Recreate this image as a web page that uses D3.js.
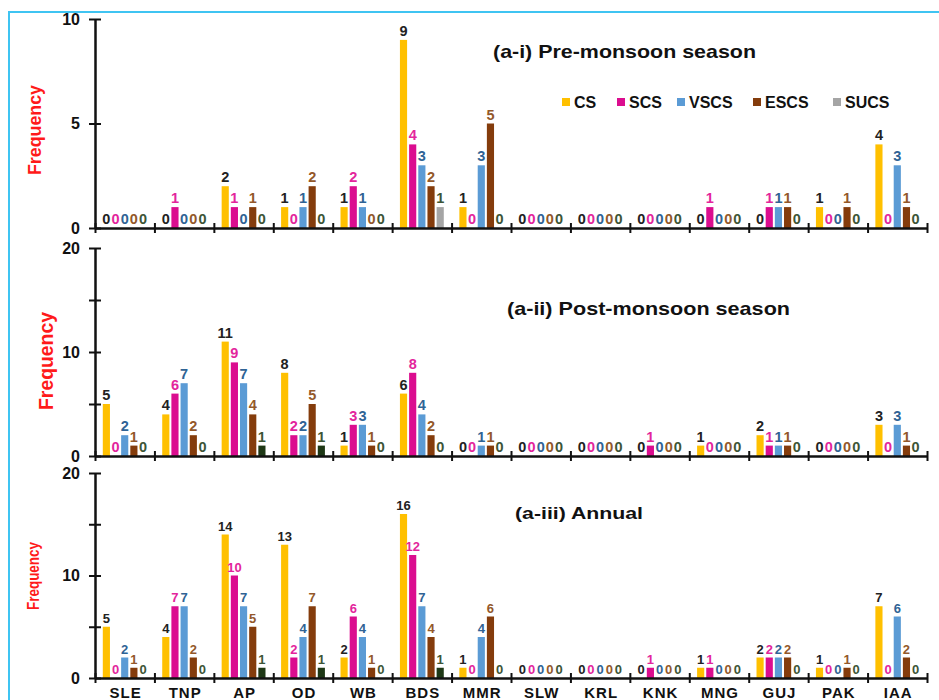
<!DOCTYPE html>
<html>
<head>
<meta charset="utf-8">
<script src="https://cdn.jsdelivr.net/npm/d3@7"></script>
<style>
  body { margin: 0; background: #fff; }
  svg { font-family: "Liberation Sans", Arial, sans-serif; }
</style>
</head>
<body>
<svg></svg>
<script>
var width = 939;
var height = 700;

// categories and series
var regions = ["SLE", "TNP", "AP", "OD", "WB", "BDS", "MMR", "SLW", "KRL", "KNK", "MNG", "GUJ", "PAK", "IAA"];
var classes = ["CS", "SCS", "VSCS", "ESCS", "SUCS"];

// values per region, order CS, SCS, VSCS, ESCS, SUCS
var preMonsoon = [
  [0, 0, 0, 0, 0], [0, 1, 0, 0, 0], [2, 1, 0, 1, 0], [1, 0, 1, 2, 0], [1, 2, 1, 0, 0],
  [9, 4, 3, 2, 1], [1, 0, 3, 5, 0], [0, 0, 0, 0, 0], [0, 0, 0, 0, 0], [0, 0, 0, 0, 0],
  [0, 1, 0, 0, 0], [0, 1, 1, 1, 0], [1, 0, 0, 1, 0], [4, 0, 3, 1, 0]
];
var postMonsoon = [
  [5, 0, 2, 1, 0], [4, 6, 7, 2, 0], [11, 9, 7, 4, 1], [8, 2, 2, 5, 1], [1, 3, 3, 1, 0],
  [6, 8, 4, 2, 0], [0, 0, 1, 1, 0], [0, 0, 0, 0, 0], [0, 0, 0, 0, 0], [0, 1, 0, 0, 0],
  [1, 0, 0, 0, 0], [2, 1, 1, 1, 0], [0, 0, 0, 0, 0], [3, 0, 3, 1, 0]
];
var annual = [
  [5, 0, 2, 1, 0], [4, 7, 7, 2, 0], [14, 10, 7, 5, 1], [13, 2, 4, 7, 1], [2, 6, 4, 1, 0],
  [16, 12, 7, 4, 1], [1, 0, 4, 6, 0], [0, 0, 0, 0, 0], [0, 0, 0, 0, 0], [0, 1, 0, 0, 0],
  [1, 1, 0, 0, 0], [2, 2, 2, 2, 0], [1, 0, 0, 1, 0], [7, 0, 6, 2, 0]
];

var barColors = ["#ffc000", "#db0d8f", "#5b9bd5", "#843c0c", "#a5a5a5"];
var barColorsDark = ["#ffc000", "#db0d8f", "#5b9bd5", "#843c0c", "#1e3816"];
var labelColors = ["#222222", "#e3259c", "#2f6395", "#93582a", "#3d5536"];

var panels = [
  { data: preMonsoon, top: 19, bottom: 228, max: 10, ticks: [0, 5, 10], labels: [0, 5, 10],
    title: "(a-i) Pre-monsoon season", titleX: 493, titleY: 58, titleSize: 19, titleLen: 263,
    freqX: 41, freqY: 130, freqLen: 90, freqSize: 19, colors: barColors, valSize: 14.5 },
  { data: postMonsoon, top: 248, bottom: 456, max: 20, ticks: [0, 5, 10, 15, 20], labels: [0, 10, 20],
    title: "(a-ii) Post-monsoon season", titleX: 507, titleY: 315, titleSize: 19, titleLen: 283,
    freqX: 53, freqY: 361, freqLen: 98, freqSize: 20, colors: barColorsDark, valSize: 14.5 },
  { data: annual, top: 473, bottom: 678, max: 20, ticks: [0, 5, 10, 15, 20], labels: [0, 10, 20],
    title: "(a-iii) Annual", titleX: 515, titleY: 519, titleSize: 17, titleLen: 128,
    freqX: 39, freqY: 576, freqLen: 68, freqSize: 17, colors: barColorsDark, valSize: 13 }
];

var axisLeft = 95, axisRight = 927;

var svg = d3.select("svg")
            .attr("width", width)
            .attr("height", height);

// light blue frame
svg.append("rect")
   .attr("x", 9).attr("y", 12)
   .attr("width", 960).attr("height", 720)
   .attr("fill", "none")
   .attr("stroke", "#3fc4f2")
   .attr("stroke-width", 2);

var xBand = d3.scaleBand()
              .domain(regions)
              .range([axisLeft, axisRight]);

var xEdge = d3.scaleLinear()
              .domain([0, regions.length])
              .range([axisLeft, axisRight]);

var xInner = d3.scaleBand()
               .domain(classes)
               .range([0, xBand.bandwidth()])
               .paddingInner(0.22)
               .paddingOuter(0.85);

panels.forEach(function(p, pi) {

  var y = d3.scaleLinear()
            .domain([0, p.max])
            .range([p.bottom, p.top]);

  var g = svg.append("g");

  // bars
  var groups = g.selectAll(".grp")
                .data(p.data)
                .enter()
                .append("g")
                .attr("transform", function(d, i) { return "translate(" + xBand(regions[i]) + ",0)"; });

  groups.selectAll("rect")
        .data(function(d) { return d; })
        .enter()
        .append("rect")
        .attr("x", function(d, j) { return xInner(classes[j]); })
        .attr("y", function(d) { return y(d); })
        .attr("width", xInner.bandwidth())
        .attr("height", function(d) { return p.bottom - y(d); })
        .attr("fill", function(d, j) { return p.colors[j]; });

  groups.selectAll("text")
        .data(function(d) { return d; })
        .enter()
        .append("text")
        .attr("x", function(d, j) { return xInner(classes[j]) + xInner.bandwidth() / 2; })
        .attr("y", function(d) { return y(d) - 4; })
        .attr("text-anchor", "middle")
        .attr("font-size", p.valSize)
        .attr("font-weight", "bold")
        .attr("fill", function(d, j) { return labelColors[j]; })
        .text(function(d) { return d; });

  // y axis
  var yAxis = d3.axisLeft(y)
                .tickValues(p.ticks)
                .tickSizeInner(6)
                .tickSizeOuter(0)
                .tickPadding(9)
                .tickFormat(function(d) { return p.labels.indexOf(d) >= 0 ? d : ""; });

  var ya = g.append("g")
            .attr("transform", "translate(" + axisLeft + ",0)")
            .call(yAxis);
  ya.select(".domain").attr("stroke", "#111").attr("stroke-width", 2.5);
  ya.selectAll(".tick line").attr("x1", -6).attr("x2", 6).attr("stroke", "#111").attr("stroke-width", 2);
  ya.selectAll(".tick text")
    .attr("font-size", 16)
    .attr("font-weight", "bold")
    .attr("font-family", "Liberation Sans, Arial, sans-serif")
    .attr("fill", "#111");

  // x axis with boundary ticks
  var xAxis = d3.axisBottom(xEdge)
                .tickValues(d3.range(0, regions.length + 1))
                .tickSizeInner(5)
                .tickSizeOuter(0)
                .tickFormat("");

  var xa = g.append("g")
            .attr("transform", "translate(0," + p.bottom + ")")
            .call(xAxis);
  xa.select(".domain").attr("stroke", "#111").attr("stroke-width", 2.5);
  xa.selectAll(".tick line").attr("y1", -5).attr("y2", 5).attr("stroke", "#111").attr("stroke-width", 2);

  // category labels on last panel
  if (pi == panels.length - 1) {
    g.selectAll(".cat")
     .data(regions)
     .enter()
     .append("text")
     .attr("x", function(d) { return xBand(d) + xBand.bandwidth() / 2 + 1; })
     .attr("y", p.bottom + 20)
     .attr("text-anchor", "middle")
     .attr("font-size", 15)
     .attr("font-weight", "bold")
     .attr("letter-spacing", 1)
     .attr("fill", "#111")
     .text(function(d) { return d; });
  }

  // title
  g.append("text")
   .attr("x", p.titleX)
   .attr("y", p.titleY)
   .attr("font-size", p.titleSize)
   .attr("font-weight", "bold")
   .attr("fill", "#111")
   .attr("textLength", p.titleLen)
   .attr("lengthAdjust", "spacingAndGlyphs")
   .text(p.title);

  // Frequency label
  g.append("text")
   .attr("transform", "translate(" + p.freqX + "," + p.freqY + ") rotate(-90)")
   .attr("text-anchor", "middle")
   .attr("font-size", p.freqSize)
   .attr("font-weight", "bold")
   .attr("fill", "#ff1a1a")
   .attr("textLength", p.freqLen)
   .attr("lengthAdjust", "spacingAndGlyphs")
   .text("Frequency");
});

// legend
var legendX = [562, 617, 677, 753, 833];
var legend = svg.append("g");
legend.selectAll("rect")
      .data(classes)
      .enter()
      .append("rect")
      .attr("x", function(d, i) { return legendX[i]; })
      .attr("y", 98)
      .attr("width", 8)
      .attr("height", 8)
      .attr("fill", function(d, i) { return barColors[i]; });
legend.selectAll("text")
      .data(classes)
      .enter()
      .append("text")
      .attr("x", function(d, i) { return legendX[i] + 12; })
      .attr("y", 108)
      .attr("font-size", 16)
      .attr("font-weight", "bold")
      .attr("fill", "#111")
      .text(function(d) { return d; });
</script>
</body>
</html>
